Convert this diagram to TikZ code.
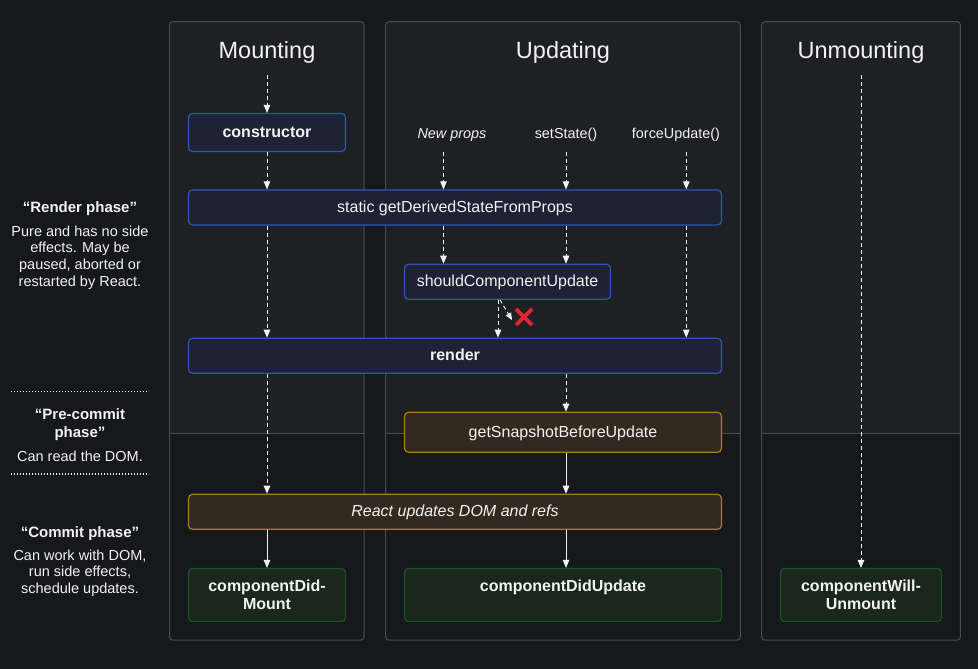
\documentclass[tikz,border=0pt]{standalone}
\usepackage{fontspec}
\setmainfont{Liberation Sans}
\usetikzlibrary{arrows.meta,calc}
\definecolor{bg}{HTML}{17181C}
\definecolor{panelfill}{HTML}{1F2023}
\definecolor{panelline}{HTML}{4B4B4F}
\definecolor{bluefill}{HTML}{1E2235}
\definecolor{blueline}{HTML}{2A55B5}
\definecolor{orangefill}{HTML}{332A1F}
\definecolor{orangeline}{HTML}{A97A1E}
\definecolor{greenfill}{HTML}{1B261D}
\definecolor{greenline}{HTML}{1E5121}
\definecolor{txt}{HTML}{F2F2F2}
\definecolor{xred}{HTML}{E3262B}
\begin{document}
\begin{tikzpicture}[x=1pt,y=-1pt,
  panel/.style={draw=panelline, line width=1pt, rounded corners=3pt},
  sep/.style={draw=panelline, line width=1pt},
  title/.style={text=txt, font=\fontsize{23.5}{26}\selectfont, inner sep=0pt},
  boxtxt/.style={font=\fontsize{16}{18}\selectfont},
  boldtxt/.style={font=\fontsize{16}{18}\selectfont\bfseries},
  itxt/.style={font=\fontsize{16}{18}\selectfont\itshape},
  box/.style={rounded corners=4pt, line width=1.2pt, minimum height=35pt, inner sep=0pt, text=txt, align=center},
  one/.style={text height=9.5pt, text depth=0pt},
  bluebox/.style={box, draw=blueline, fill=bluefill},
  orangebox/.style={box, draw=orangeline, fill=orangefill},
  greenbox/.style={box, draw=greenline, fill=greenfill},
  trig/.style={text=txt, font=\fontsize{14.4}{17}\selectfont, inner sep=0pt, text height=8pt, text depth=0pt},
  sidehead/.style={text=txt, font=\fontsize{15}{18.7}\selectfont\bfseries, inner sep=0pt, align=center},
  sidebody/.style={text=txt, font=\fontsize{14.5}{16.7}\selectfont, inner sep=0pt, align=center},
  dotsep/.style={draw=txt, line width=1.3pt, dash pattern=on 1.3pt off 1.7pt},
  dasharrow/.style={draw=txt, line width=0.95pt, dash pattern=on 4pt off 3pt, -{Triangle[length=8pt,width=6.5pt]}},
  solidarrow/.style={draw=txt, line width=1pt, -{Triangle[length=8pt,width=6.5pt]}}
]
\useasboundingbox (0,0) rectangle (978,669);
\fill[bg] (0,0) rectangle (978,669);

% panels
\foreach \l/\r in {169.5/364, 385.7/740.3, 761.7/960.3}{
  \fill[panelfill, rounded corners=3pt] (\l,21.7) rectangle (\r,640);
  \fill[bg] (\l+0.5,433.3) rectangle (\r-0.5,639.5);
  \draw[panel] (\l,21.7) rectangle (\r,640);
  \draw[sep] (\l,433.3) -- (\r,433.3);
}

% titles
\node[title] (tmount) at (267,52) {Mounting};
\node[title] (tupd) at (563,52) {Updating};
\node[title] (tunm) at (861,52) {Unmounting};
\coordinate (mstart) at (267,75);
\coordinate (ustart) at (861,75);

% triggers
\node[trig, font=\fontsize{14.4}{17}\selectfont\itshape] (np) at (452,134) {New props};
\node[trig] (ss) at (566,134) {setState()};
\node[trig] (fu) at (676,134) {forceUpdate()};

% boxes
\node[bluebox, one, boldtxt, minimum width=157pt, minimum height=38pt] (ctor) at (267,132.5) {constructor};
\node[bluebox, one, boxtxt, minimum width=533pt] (gdsfp) at (455,207.5) {static getDerivedStateFromProps};
\node[bluebox, one, boxtxt, minimum width=206pt] (scu) at (507.5,281.8) {shouldComponentUpdate};
\node[bluebox, one, boldtxt, minimum width=533pt] (render) at (455,355.8) {render};
\node[orangebox, one, boxtxt, minimum width=317pt, minimum height=40pt] (gsbu) at (563,432.3) {getSnapshotBeforeUpdate};
\node[orangebox, one, itxt, minimum width=533pt] (rud) at (455,511.8) {React updates DOM and refs};
\node[greenbox, boldtxt, minimum width=157pt, minimum height=53pt] (cdm) at (267,595) {componentDid-\\Mount};
\node[greenbox, boldtxt, minimum width=317pt, minimum height=53pt] (cdu) at (563,595) {componentDidUpdate\\\mbox{}};
\node[greenbox, boldtxt, minimum width=161pt, minimum height=53pt] (cwu) at (861,595) {componentWill-\\Unmount};

% mounting arrows
\draw[dasharrow] (mstart) -- (ctor.north);
\draw[dasharrow] (ctor.south) -- (ctor.south |- gdsfp.north);
\draw[dasharrow] (ctor.south |- gdsfp.south) -- (ctor.south |- render.north);
\draw[dasharrow] (ctor.south |- render.south) -- (ctor.south |- rud.north);
\draw[solidarrow] (ctor.south |- rud.south) -- (cdm.north);

% updating arrows
\coordinate (ax1) at (443.5,152);
\coordinate (ax2) at (566,152);
\coordinate (ax3) at (686.3,152);
\coordinate (ax4) at (498,0);
\coordinate (ax5) at (500,0);
\draw[dasharrow] (ax1) -- (ax1 |- gdsfp.north);
\draw[dasharrow] (ax2) -- (ax2 |- gdsfp.north);
\draw[dasharrow] (ax3) -- (ax3 |- gdsfp.north);
\draw[dasharrow] (ax1 |- gdsfp.south) -- (ax1 |- scu.north);
\draw[dasharrow] (ax2 |- gdsfp.south) -- (ax2 |- scu.north);
\draw[dasharrow] (ax3 |- gdsfp.south) -- (ax3 |- render.north);
\draw[dasharrow] (ax4 |- scu.south) -- (ax4 |- render.north);
\coordinate (noend) at (512,320);
\draw[dasharrow, -{Triangle[length=7pt,width=6pt]}] (ax5 |- scu.south) -- (noend);
\coordinate (nox) at (524,317);
\draw[xred, line width=3.6pt] ($(nox)+(-8,-8)$) -- ($(nox)+(8,8)$) ($(nox)+(8,-8)$) -- ($(nox)+(-8,8)$);
\draw[dasharrow] (ax2 |- render.south) -- (ax2 |- gsbu.north);
\draw[solidarrow] (ax2 |- gsbu.south) -- (ax2 |- rud.north);
\draw[solidarrow] (ax2 |- rud.south) -- (ax2 |- cdu.north);

% unmounting arrow
\draw[dasharrow] (ustart) -- (cwu.north);

% side labels
\node[sidehead] (rh) at (80,208.5) {“Render phase”};
\node[sidebody] (rb) at (80,257.5) {Pure and has no side\\effects. May be\\paused, aborted or\\restarted by React.};
\coordinate (d1a) at (11,391.5);
\coordinate (d1b) at (149,391.5);
\draw[dotsep] (d1a) -- (d1b);
\node[sidehead] (ph) at (80,424.5) {“Pre-commit\\phase”};
\node[sidebody] (pb) at (80,456) {Can read the DOM.};
\coordinate (d2a) at (11,474);
\coordinate (d2b) at (149,474);
\draw[dotsep] (d2a) -- (d2b);
\node[sidehead] (ch) at (80,533.5) {“Commit phase”};
\node[sidebody] (cb) at (80,573) {Can work with DOM,\\run side effects,\\schedule updates.};
\end{tikzpicture}
\end{document}
